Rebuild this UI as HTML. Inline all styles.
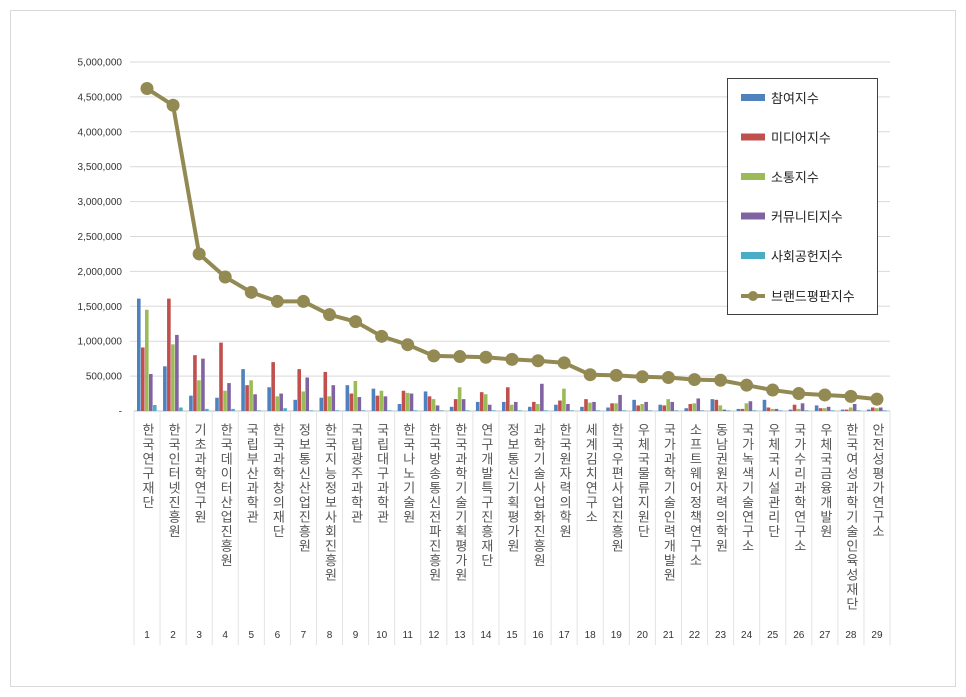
<!DOCTYPE html><html><head><meta charset="utf-8"><style>body{margin:0;background:#fff}svg{display:block}
#w{position:relative;width:966px;height:697px}
.lb{position:absolute;top:423px;width:26px;display:flex;justify-content:center;font:13px "Liberation Sans","Noto Sans CJK KR",sans-serif;color:#555}
.lb span{writing-mode:vertical-rl;text-orientation:upright;letter-spacing:1.5px;line-height:14px}
</style></head><body><div id="w">
<svg id="s" width="966" height="697" xmlns="http://www.w3.org/2000/svg" font-family="Liberation Sans, Noto Sans CJK KR, sans-serif"></svg>
</div>
<script>
const s=document.getElementById('s'),w=document.getElementById('w');let h='',d='';
h+='<rect x="10.5" y="10.5" width="945" height="676" fill="#fff" stroke="#d9d9d9"/>';
const y0=411,k=34.9/500000;
for(let i=0;i<=10;i++){const y=y0-i*34.9;if(i>0)h+=`<line x1="130" x2="890" y1="${y}" y2="${y}" stroke="#d9d9d9"/>`;
h+=`<text x="122" y="${y+3.5}" font-size="10" text-anchor="end" fill="#333">${i==0?'-':(i*500000).toLocaleString('en-US')}</text>`;}
const names=["한국연구재단","한국인터넷진흥원","기초과학연구원","한국데이터산업진흥원","국립부산과학관","한국과학창의재단","정보통신산업진흥원","한국지능정보사회진흥원","국립광주과학관","국립대구과학관","한국나노기술원","한국방송통신전파진흥원","한국과학기술기획평가원","연구개발특구진흥재단","정보통신기획평가원","과학기술사업화진흥원","한국원자력의학원","세계김치연구소","한국우편사업진흥원","우체국물류지원단","국가과학기술인력개발원","소프트웨어정책연구소","동남권원자력의학원","국가녹색기술연구소","우체국시설관리단","국가수리과학연구소","우체국금융개발원","한국여성과학기술인육성재단","안전성평가연구소"];
const B=[[1.61,.91,1.45,.53,.086],[.64,1.61,.955,1.09,.05],[.22,.80,.44,.75,.03],[.19,.98,.29,.40,.03],[.60,.37,.44,.24,.01],[.34,.70,.21,.25,.04],[.16,.60,.28,.48,.01],[.19,.56,.21,.37,.01],[.37,.25,.43,.20,.01],[.32,.22,.29,.21,.01],[.10,.29,.26,.25,.01],[.28,.21,.17,.08,.01],[.06,.17,.34,.17,.01],[.13,.27,.24,.09,.01],[.13,.34,.09,.13,.01],[.06,.13,.10,.39,.01],[.09,.15,.32,.10,.01],[.06,.17,.12,.13,.01],[.05,.11,.11,.23,.01],[.16,.08,.10,.13,.01],[.09,.08,.17,.13,.01],[.04,.10,.11,.18,.01],[.17,.16,.08,.02,.01],[.03,.03,.11,.14,.01],[.16,.05,.03,.03,.01],[.02,.09,.03,.11,.01],[.08,.04,.04,.06,.01],[.02,.02,.05,.10,.01],[.02,.05,.04,.05,.01]];
const L=[4.62,4.38,2.25,1.92,1.70,1.57,1.57,1.38,1.28,1.07,.95,.79,.78,.77,.74,.72,.69,.52,.51,.49,.48,.45,.44,.37,.30,.25,.23,.21,.17];
const C=["#4f81bd","#c0504d","#9bbb59","#8064a2","#4bacc6"];
const st=26.07,x1=147;
h+=`<line x1="134" x2="890" y1="${y0}" y2="${y0}" stroke="#bfbfbf"/>`;
for(let i=0;i<=29;i++){const x=134+i*st;h+=`<line x1="${x}" x2="${x}" y1="${y0}" y2="645" stroke="#e3e3e3"/>`;}
names.forEach((n,i)=>{const cx=x1+i*st;
B[i].forEach((v,j)=>{const hh=v*1e6*k;h+=`<rect x="${cx-10+j*4}" y="${y0-hh}" width="3.6" height="${hh}" fill="${C[j]}"/>`;});
d+=`<div class="lb" style="left:${cx-13}px"><span>${n}</span></div>`;
h+=`<text x="${cx}" y="638" font-size="10" text-anchor="middle" fill="#333">${i+1}</text>`;});
let p=L.map((v,i)=>`${x1+i*st},${y0-v*1e6*k}`).join(' ');
h+=`<polyline points="${p}" fill="none" stroke="#938953" stroke-width="4"/>`;
L.forEach((v,i)=>h+=`<circle cx="${x1+i*st}" cy="${y0-v*1e6*k}" r="6.5" fill="#938953"/>`);
h+='<rect x="727.5" y="78.5" width="150" height="236" fill="#fff" stroke="#404040"/>';
const lg=["참여지수","미디어지수","소통지수","커뮤니티지수","사회공헌지수"];
lg.forEach((t,j)=>{const y=98+j*39.5;h+=`<rect x="741" y="${y-4}" width="24" height="7" fill="${C[j]}"/><text x="771" y="${y+5}" font-size="13" fill="#222">${t}</text>`;});
h+=`<line x1="741" x2="765" y1="296" y2="296" stroke="#938953" stroke-width="4"/><circle cx="753" cy="296" r="5" fill="#938953"/><text x="771" y="301" font-size="13" fill="#222">브랜드평판지수</text>`;
s.innerHTML=h;
w.insertAdjacentHTML('beforeend',d);
</script></body></html>
